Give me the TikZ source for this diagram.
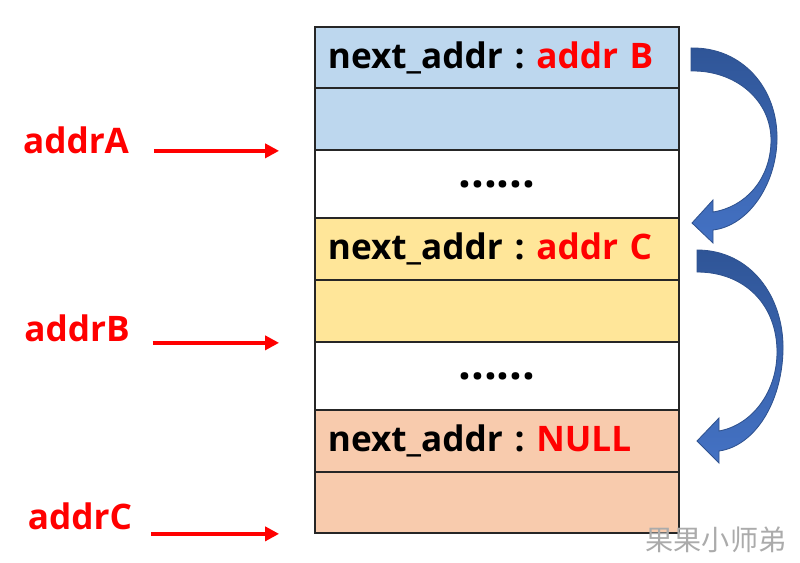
\documentclass[tikz,border=0pt]{standalone}
\usepackage{fontspec}
\setmainfont{Open Sans}
\newfontfamily\cjk{Noto Sans CJK SC}
\usetikzlibrary{arrows.meta,calc}
\definecolor{blueRow}{HTML}{BDD7EE}
\definecolor{yellowRow}{HTML}{FFE699}
\definecolor{peachRow}{HTML}{F8CBAD}
\definecolor{ptrRed}{HTML}{FF0000}
\definecolor{arrowDark}{HTML}{2F5597}
\definecolor{arrowLight}{HTML}{4472C4}
\definecolor{arrowEdge}{HTML}{2F528F}
\definecolor{markGray}{HTML}{ABABAB}

\begin{document}
\begin{tikzpicture}[
  x=0.025cm, y=-0.025cm,
  bigfont/.style={font=\fontsize{25}{30}\selectfont\bfseries},
  row/.style={draw=black!85, line width=1.2pt, minimum width=9.1cm,
              inner xsep=0.325cm, text width=8.45cm, align=left, bigfont},
  dots/.style={row, align=center, font=\fontsize{32}{34}\selectfont\bfseries},
  addr/.style={bigfont, text=ptrRed},
  ptr/.style={-{Triangle[length=10pt,width=10pt]}, line width=2.8pt, draw=ptrRed},
  blockarrow/.style={top color=arrowDark, bottom color=arrowLight,
                     draw=arrowEdge, line width=0.6pt},
]
\useasboundingbox (0,0) rectangle (800,563);

% ---------------- ROWS (absolute grid) ----------------
\node[row, fill=blueRow, minimum height=1.525cm] (A1) at (497,57.5)
  {next\_addr :\ \textcolor{ptrRed}{addr B}};
\node[row, fill=blueRow, minimum height=1.55cm] (A2) at (497,119) {};
\node[dots, fill=white, minimum height=1.7cm] (A3) at (497,184) {......};
\node[row, fill=yellowRow, minimum height=1.55cm] (B1) at (497,249)
  {next\_addr :\ \textcolor{ptrRed}{addr C}};
\node[row, fill=yellowRow, minimum height=1.55cm] (B2) at (497,311) {};
\node[dots, fill=white, minimum height=1.7cm] (B3) at (497,376) {......};
\node[row, fill=peachRow, minimum height=1.55cm] (C1) at (497,441)
  {next\_addr :\ \textcolor{ptrRed}{NULL}};
\node[row, fill=peachRow, minimum height=1.525cm] (C2) at (497,502.5) {};

% ---------------- ADDRESS LABELS ----------------
\node[addr] (addrA) at (76,140) {addrA};
\node[addr] (addrB) at (77,328) {addrB};
\node[addr] (addrC) at (80,516) {addrC};

% ---------------- POINTERS ----------------
\draw[ptr] ([xshift=0.5cm]addrA.east |- A2.south west) -- ([xshift=-0.875cm]A2.south west);
\draw[ptr] ([xshift=0.45cm]addrB.east |- B2.south west) -- ([xshift=-0.875cm]B2.south west);
\draw[ptr] ([xshift=0.35cm]addrC.east |- C2.south west) -- ([xshift=-0.875cm]C2.south west);

% next links (curved block arrows)
\path[blockarrow] (691,48) .. controls (742,47) and (778,88) .. (777,140)
  .. controls (776,185) and (748,226) .. (713,230) -- (713,243) -- (692,223)
  -- (713,200) -- (713,212) .. controls (745,207) and (770,180) .. (771,142)
  .. controls (772,100) and (735,70) .. (691,71) -- cycle;
\path[blockarrow] (697,250) .. controls (750,250) and (784,296) .. (783,350)
  .. controls (782,402) and (755,446) .. (719,451) -- (719,463) -- (697,441)
  -- (719,418) -- (719,431) .. controls (752,425) and (777,392) .. (777,352)
  .. controls (777,305) and (745,272) .. (697,272) -- cycle;

% watermark
\node[text=markGray, font=\cjk\fontsize{20}{24}\selectfont] (mark) at (716,540) {果果小师弟};
\end{tikzpicture}
\end{document}
